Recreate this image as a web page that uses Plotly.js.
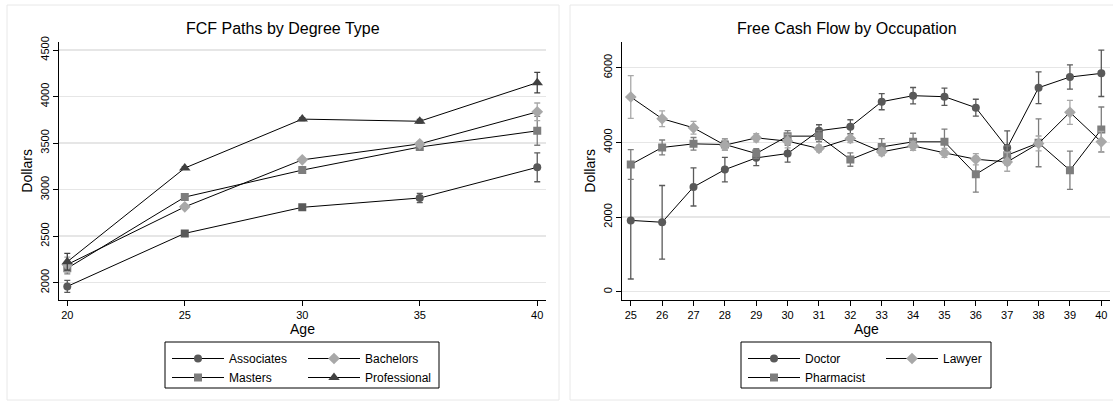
<!DOCTYPE html>
<html>
<head>
<meta charset="utf-8">
<script src="https://cdn.plot.ly/plotly-3.0.1.min.js"></script>
<style>
html,body{margin:0;padding:0;background:#fff;}
#chart{width:1113px;height:406px;}
</style>
</head>
<body>
<div id="chart"></div>
<script>
// ---------- Left chart: FCF Paths by Degree Type ----------
const degreeAges = [20, 25, 30, 35, 40];
const associates = [1960, 2530, 2810, 2910, 3240];
const associatesErr = [65, 20, 20, 50, 155];
const bachelors = [2195, 2815, 3320, 3492, 3836];
const bachelorsErr = [80, 20, 20, 25, 95];
const masters = [2155, 2920, 3210, 3458, 3632];
const mastersErr = [60, 20, 20, 20, 155];
const professional = [2225, 3232, 3758, 3735, 4150];
const professionalErr = [90, 15, 15, 20, 110];
const degreeTicks = [20, 25, 30, 35, 40];
const degreeYTicks = [2000, 2500, 3000, 3500, 4000, 4500];

// ---------- Right chart: Free Cash Flow by Occupation ----------
const occAges = [25, 26, 27, 28, 29, 30, 31, 32, 33, 34, 35, 36, 37, 38, 39, 40];
const doctor = [1910, 1860, 2805, 3270, 3585, 3700, 4312, 4420, 5089, 5250, 5223, 4929, 3855, 5464, 5750, 5848];
const doctorErr = [1570, 985, 510, 330, 210, 230, 160, 185, 215, 220, 230, 225, 450, 425, 325, 620];
const lawyer = [5215, 4633, 4390, 3925, 4121, 4032, 3835, 4104, 3745, 3906, 3718, 3548, 3476, 3970, 4804, 4014];
const lawyerErr = [575, 210, 170, 130, 110, 180, 90, 110, 100, 120, 120, 150, 250, 200, 320, 280];
const pharmacist = [3406, 3863, 3960, 3943, 3701, 4167, 4167, 3540, 3879, 4014, 4014, 3145, 3656, 3987, 3253, 4347];
const pharmacistErr = [400, 200, 170, 150, 130, 150, 150, 180, 220, 230, 340, 480, 250, 640, 510, 600];
const occYTicks = [0, 2000, 4000, 6000];

const W = 1113, H = 406;
const px = v => v / W;           // pixel x -> paper
const py = v => 1 - v / H;       // pixel y -> paper

const cDark = '#595959', cLight = '#a8a8a8', cMid = '#7d7d7d', cDarker = '#404040';

function tr(x, y, err, name, color, symbol, size, xa, ya, legend) {
  return {
    x: x, y: y, name: name, type: 'scatter', mode: 'lines+markers',
    xaxis: xa, yaxis: ya, legend: legend,
    line: {color: '#000', width: 1},
    marker: {color: color, symbol: symbol, size: size},
    error_y: {type: 'data', array: err, visible: true, color: color, thickness: 1.3, width: 3}
  };
}

const data = [
  tr(degreeAges, associates, associatesErr, 'Associates', cDark,
     ['circle', 'square', 'square', 'circle', 'circle'], 8, 'x', 'y', 'legend'),
  tr(degreeAges, masters, mastersErr, 'Masters', cMid, 'square', 8, 'x', 'y', 'legend'),
  tr(degreeAges, bachelors, bachelorsErr, 'Bachelors', cLight, 'diamond', 9, 'x', 'y', 'legend2'),
  tr(degreeAges, professional, professionalErr, 'Professional', cDarker, 'triangle-up', 10, 'x', 'y', 'legend2'),
  tr(occAges, doctor, doctorErr, 'Doctor', cDark, 'circle', 8, 'x2', 'y2', 'legend3'),
  tr(occAges, pharmacist, pharmacistErr, 'Pharmacist', cMid, 'square', 8, 'x2', 'y2', 'legend3'),
  tr(occAges, lawyer, lawyerErr, 'Lawyer', cLight, 'diamond', 9, 'x2', 'y2', 'legend4')
];

const font = {family: 'Liberation Sans, Arial, Helvetica, sans-serif', color: '#000'};
const axBase = {
  showline: true, linecolor: '#000', linewidth: 1,
  ticks: 'outside', ticklen: 5, tickcolor: '#000', tickwidth: 1,
  zeroline: false, automargin: false,
  tickfont: {size: 11, color: '#000'}
};

function legendCfg(xpix) {
  return {
    x: px(xpix), y: py(344), xanchor: 'left', yanchor: 'top',
    orientation: 'v', bgcolor: 'rgba(0,0,0,0)', borderwidth: 0,
    font: {size: 12, color: '#000'}, itemwidth: 52, tracegroupgap: 0,
    itemclick: false, itemdoubleclick: false
  };
}

const layout = {
  width: W, height: H,
  margin: {l: 0, r: 0, t: 0, b: 0},
  paper_bgcolor: '#fff', plot_bgcolor: '#fff',
  font: font,
  showlegend: true,
  xaxis: Object.assign({}, axBase, {
    domain: [px(59.3), px(545.7)], range: [19.66, 40.36],
    tickvals: degreeTicks, showgrid: false, anchor: 'y',
    title: {text: 'Age', font: {size: 14}, standoff: 2}
  }),
  yaxis: Object.assign({}, axBase, {
    domain: [py(300), py(41.7)], range: [1814, 4590],
    tickvals: degreeYTicks, tickangle: -90, showgrid: true,
    gridcolor: '#e6e6e6', gridwidth: 1.5, anchor: 'x',
    title: {text: 'Dollars', font: {size: 14}, standoff: 2}
  }),
  xaxis2: Object.assign({}, axBase, {
    domain: [px(622.3), px(1110.4)], range: [24.73, 40.29],
    tickvals: occAges, showgrid: false, anchor: 'y2',
    title: {text: 'Age', font: {size: 14}, standoff: 2}
  }),
  yaxis2: Object.assign({}, axBase, {
    domain: [py(300), py(41.7)], range: [-222, 6696],
    tickvals: occYTicks, tickangle: -90, showgrid: true,
    gridcolor: '#e6e6e6', gridwidth: 1.5, anchor: 'x2',
    title: {text: 'Dollars', font: {size: 14}, standoff: 2}
  }),
  legend: legendCfg(167),
  legend2: legendCfg(303),
  legend3: legendCfg(743),
  legend4: legendCfg(881),
  annotations: [
    {text: 'FCF Paths by Degree Type', x: px(283), y: py(28), xref: 'paper', yref: 'paper',
     xanchor: 'center', yanchor: 'middle', showarrow: false, font: {size: 16, color: '#000'}},
    {text: 'Free Cash Flow by Occupation', x: px(847), y: py(28), xref: 'paper', yref: 'paper',
     xanchor: 'center', yanchor: 'middle', showarrow: false, font: {size: 16, color: '#000'}}
  ],
  shapes: [
    {type: 'rect', xref: 'paper', yref: 'paper', x0: px(7), x1: px(559), y0: py(400), y1: py(5),
     line: {color: '#e8e8e8', width: 1}, layer: 'below'},
    {type: 'rect', xref: 'paper', yref: 'paper', x0: px(570), x1: px(1125), y0: py(400), y1: py(5),
     line: {color: '#e8e8e8', width: 1}, layer: 'below'},
    {type: 'rect', xref: 'paper', yref: 'paper', x0: px(165), x1: px(439), y0: py(388), y1: py(342),
     line: {color: '#000', width: 1}},
    {type: 'rect', xref: 'paper', yref: 'paper', x0: px(741), x1: px(991), y0: py(388), y1: py(342),
     line: {color: '#000', width: 1}}
  ]
};

Plotly.newPlot('chart', data, layout, {staticPlot: true, displayModeBar: false});
</script>
</body>
</html>
